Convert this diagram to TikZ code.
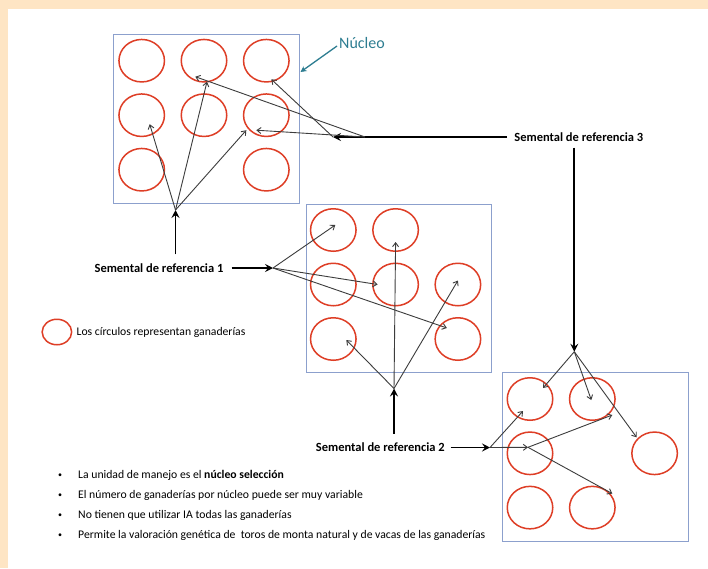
\documentclass[tikz,border=0pt]{standalone}
\usepackage{fontspec}
\setmainfont{Carlito}
\usetikzlibrary{arrows.meta,shapes.geometric,positioning}
\definecolor{peach}{RGB}{254,229,196}
\definecolor{farmred}{RGB}{222,62,38}
\definecolor{boxblue}{RGB}{140,160,205}
\definecolor{linkgray}{RGB}{60,60,60}
\definecolor{nucleoteal}{RGB}{45,125,145}
\tikzset{
    farm/.style={ellipse, draw=farmred, line width=1.5pt, minimum width=45.5pt, minimum height=42.5pt, inner sep=0pt}, % ganaderia
    nucleo/.style={draw=boxblue, line width=1pt}, % marco del nucleo
    link/.style={draw=linkgray, line width=0.9pt, -{Straight Barb[length=4pt,width=6pt]}},
    bigarrow/.style={line width=1.7pt, -{Stealth[length=8pt,width=8pt,inset=3pt]}},
    sire/.style={font=\fontsize{12.5}{14}\selectfont\bfseries, inner sep=2pt},
    note/.style={font=\fontsize{11.7}{13}\selectfont, inner sep=0pt, anchor=west}
}
\begin{document}
\begin{tikzpicture}[x=1pt, y=-1pt]
    \fill[peach] (0,0) rectangle (708,568);
    \fill[white] (8,9) rectangle (708,568);
    \useasboundingbox (0,0) rectangle (708,568);

    % nucleos
    \draw[nucleo] (113,34) rectangle (299,203);
    \draw[nucleo] (306,204) rectangle (491,372);
    \draw[nucleo] (502,372) rectangle (688,541);
    \foreach \c/\r in {1/1,2/1,3/1,1/2,2/2,3/2,1/3,3/3}
        \node[farm] (a\c\r) at ({141.7+62.3*(\c-1)}, {60.7+54.5*(\r-1)}) {};
    \foreach \c/\r in {1/1,2/1,1/2,2/2,3/2,1/3,3/3}
        \node[farm] (b\c\r) at ({333.3+62.3*(\c-1)}, {230+54.5*(\r-1)}) {};
    \foreach \c/\r in {1/1,2/1,1/2,3/2,1/3,2/3}
        \node[farm] (c\c\r) at ({530+62.3*(\c-1)}, {399+54.3*(\r-1)}) {};

    \node[font=\fontsize{16}{18}\selectfont, text=nucleoteal, inner sep=1pt] (nuc) at (362,43) {Núcleo};
    \coordinate (nucend) at (300.5,72);
    \draw[nucleoteal, line width=1.3pt, -{Stealth[length=6pt,width=6pt]}] (nuc.west) ++(-1,3) -- (nucend);

    % sementales
    \node[sire] (s1) at (159,268) {Semental de referencia 1};
    \node[sire] (s2) at (380.4,447.5) {Semental de referencia 2};
    \node[sire] (s3) at (578.8,137) {Semental de referencia 3};
    \coordinate (s1up) at (175.5,210);
    \coordinate (s1rt) at (273,268);
    \coordinate (s2up) at (394,388.5);
    \coordinate (s2rt) at (490,447.5);
    \coordinate (hop) at ([shift={(-2,-6)}]c12.center);
    \coordinate (s3lt) at (333,137);
    \coordinate (s3mid) at (365,137);
    \coordinate (s3dn) at (574.3,351.7);

    \draw[bigarrow] (s1up |- s1.north) ++(0,-7) -- (s1up);
    \draw[bigarrow] (s1.east) ++(6,0) -- (s1rt);
    \draw[bigarrow] (s2up |- s2.north) ++(0,-7) -- (s2up);
    \draw[bigarrow] (s2.east) ++(3.5,0) -- (s2rt);
    \draw[bigarrow] (s3.west) ++(-5,0) -- (s3lt);
    \draw[bigarrow] (s3dn |- s3.south) ++(0,4) -- (s3dn);

    \path (s1up) edge[link] ([shift={(8,9)}]a12.center)
                 edge[link] ([shift={(3,21)}]a21.center)
                 edge[link] ([shift={(-20,15)}]a32.center);
    \path (s3lt) edge[link] ([shift={(5,18.6)}]a31.center);
    \path (s3mid) edge[link] ([shift={(-8.7,16)}]a21.center)
                  edge[link] ([shift={(-10,15)}]a32.center);
    \path (s1rt) edge[link] ([shift={(2,-5)}]b11.center)
                 edge[link] ([shift={(-18,0)}]b22.center)
                 edge[link] ([shift={(-11,-11)}]b33.center);
    \path (s2up) edge[link] ([shift={(13,1)}]b13.center)
                 edge[link] ([shift={(0,12)}]b21.center)
                 edge[link] ([shift={(0,-4)}]b32.center);
    \path (s3dn) edge[link] ([shift={(13,-11)}]c11.center)
                 edge[link] ([shift={(-1,1)}]c21.center)
                 edge[link] ([shift={(-18,-16)}]c32.center);
    \path (s2rt) edge[link] ([shift={(-7,12)}]c11.center)
                 edge[link] (hop);
    \path (hop) edge[link] ([shift={(20,16)}]c21.center)
                edge[link] ([shift={(20,-14)}]c23.center);

    % leyenda
    \node[farm, minimum width=29.5pt, minimum height=25.5pt] (lg) at (56.9,332) {};
    \node[note, right=4pt of lg] (lgtext) {Los círculos representan ganaderías};

    \foreach \i/\t in {0/{La unidad de manejo es el \textbf{núcleo selección}},
                       1/{El número de ganaderías por núcleo puede ser muy variable},
                       2/{No tienen que utilizar IA todas las ganaderías},
                       3/{Permite la valoración genética de~ toros de monta natural y de vacas de las ganaderías}} {
        \node[note] (item\i) at (78, {475.7+20*\i}) {\t};
        \node[font=\fontsize{8}{10}\selectfont, inner sep=0pt] (dot\i) at (60, {475.7+20*\i}) {\textbullet};
    }
\end{tikzpicture}
\end{document}
